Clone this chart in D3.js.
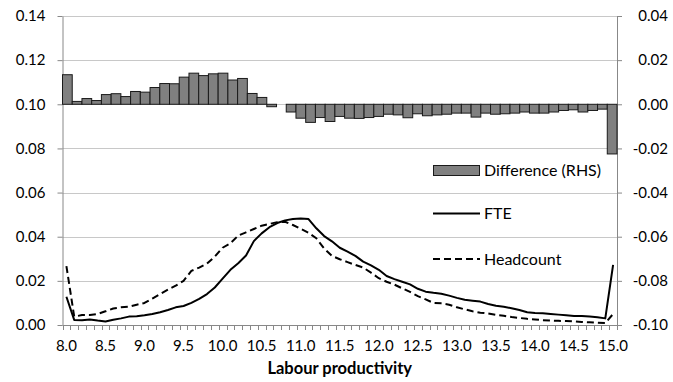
<!DOCTYPE html>
<html>
<head>
<meta charset="utf-8">
<script src="https://cdn.jsdelivr.net/npm/d3@7"></script>
<style>
  body { margin: 0; background: #fff; }
  text { font-family: Lato, "Open Sans", sans-serif; fill: #000; }
</style>
</head>
<body>
<svg id="chart" width="673" height="382"></svg>
<script>
// categories of the line series (primary x axis)
const xValues = [
    "8.0", "8.1", "8.2", "8.3", "8.4", "8.5", "8.6", "8.7", "8.8", "8.9",
    "9.0", "9.1", "9.2", "9.3", "9.4", "9.5", "9.6", "9.7", "9.8", "9.9",
    "10.0", "10.1", "10.2", "10.3", "10.4", "10.5", "10.6", "10.7", "10.8", "10.9",
    "11.0", "11.1", "11.2", "11.3", "11.4", "11.5", "11.6", "11.7", "11.8", "11.9",
    "12.0", "12.1", "12.2", "12.3", "12.4", "12.5", "12.6", "12.7", "12.8", "12.9",
    "13.0", "13.1", "13.2", "13.3", "13.4", "13.5", "13.6", "13.7", "13.8", "13.9",
    "14.0", "14.1", "14.2", "14.3", "14.4", "14.5", "14.6", "14.7", "14.8", "14.9",
    "15.0"
];

const fte = [
    0.0128, 0.0023, 0.0022, 0.0025, 0.0020, 0.0016, 0.0024, 0.0030, 0.0038, 0.0040,
    0.0044, 0.0050, 0.0058, 0.0068, 0.0080, 0.0086, 0.0100, 0.0118, 0.0140, 0.0170,
    0.0210, 0.0250, 0.0280, 0.0315, 0.0380, 0.0415, 0.0443, 0.0462, 0.0474, 0.0480,
    0.0483, 0.0480, 0.0438, 0.0403, 0.0379, 0.0350, 0.0332, 0.0313, 0.0287, 0.0270,
    0.0250, 0.0222, 0.0208, 0.0196, 0.0184, 0.0164, 0.0151, 0.0146, 0.0142, 0.0133,
    0.0123, 0.0114, 0.0110, 0.0106, 0.0095, 0.0087, 0.0083, 0.0076, 0.0068, 0.0058,
    0.0054, 0.0053, 0.0050, 0.0047, 0.0044, 0.0041, 0.0041, 0.0038, 0.0035, 0.0030,
    0.0272
];

const headcount = [
    0.0267, 0.0038, 0.0045, 0.0045, 0.0050, 0.0062, 0.0075, 0.0080, 0.0083, 0.0092,
    0.0100, 0.0120, 0.0140, 0.0160, 0.0178, 0.0200, 0.0245, 0.0260, 0.0278, 0.0310,
    0.0350, 0.0370, 0.0405, 0.0420, 0.0435, 0.0450, 0.0458, 0.0466, 0.0468, 0.0453,
    0.0436, 0.0418, 0.0393, 0.0347, 0.0313, 0.0298, 0.0285, 0.0272, 0.0260, 0.0237,
    0.0212, 0.0196, 0.0183, 0.0166, 0.0150, 0.0131, 0.0116, 0.0100, 0.0098, 0.0092,
    0.0080, 0.0071, 0.0062, 0.0056, 0.0052, 0.0046, 0.0042, 0.0036, 0.0032, 0.0028,
    0.0025, 0.0022, 0.0020, 0.0019, 0.0018, 0.0016, 0.0014, 0.0012, 0.0010, 0.0009,
    0.0050
];

// bars sit on a hidden secondary x axis with their own spacing
const difference = [
    0.0134, 0.0013, 0.0026, 0.0017, 0.0044, 0.0048, 0.0035, 0.0058, 0.0055, 0.0076,
    0.0094, 0.0093, 0.0123, 0.0141, 0.0130, 0.0138, 0.0141, 0.0110, 0.0117, 0.0049,
    0.0031, -0.0011, 0.0000, -0.0035, -0.0063, -0.0082, -0.0060, -0.0078, -0.0055, -0.0063,
    -0.0064, -0.0060, -0.0055, -0.0045, -0.0048, -0.0061, -0.0043, -0.0052, -0.0048, -0.0045,
    -0.0040, -0.0040, -0.0058, -0.0040, -0.0045, -0.0043, -0.0040, -0.0035, -0.0040, -0.0040,
    -0.0035, -0.0028, -0.0025, -0.0035, -0.0028, -0.0022, -0.0225
];

const xTickLabels = ["8.0", "8.5", "9.0", "9.5", "10.0", "10.5", "11.0", "11.5",
    "12.0", "12.5", "13.0", "13.5", "14.0", "14.5", "15.0"];
const leftTicks = [0, 0.02, 0.04, 0.06, 0.08, 0.10, 0.12, 0.14];
const rightTicks = [-0.10, -0.08, -0.06, -0.04, -0.02, 0, 0.02, 0.04];

const plotLeft = 62.5, plotRight = 617, plotTop = 16, plotBottom = 325;
const gridColor = "#c8c8c8", axisColor = "#888";

let svg = d3.select("#chart");

let x = d3.scaleBand().domain(xValues).range([plotLeft, plotRight]).padding(0);
let xBar = d3.scaleBand().domain(d3.range(difference.length)).range([plotLeft, plotRight]).padding(0);
let yLeft = d3.scaleLinear().domain([0, 0.14]).range([plotBottom, plotTop]);
let yRight = d3.scaleLinear().domain([-0.10, 0.04]).range([plotBottom, plotTop]);

let fmt = v => d3.format(".2f")(v).replace("\u2212", "-");

// gridlines
svg.append("g")
    .selectAll("line")
    .data(leftTicks.filter(d => d > 0))
    .enter().append("line")
    .attr("x1", plotLeft).attr("x2", plotRight)
    .attr("y1", d => Math.round(yLeft(d)) + 0.5)
    .attr("y2", d => Math.round(yLeft(d)) + 0.5)
    .attr("stroke", gridColor);

// left axis
let leftAxis = svg.append("g")
    .attr("transform", "translate(" + plotLeft + ",0)")
    .call(d3.axisLeft(yLeft).tickValues(leftTicks).tickFormat(fmt).tickSize(5).tickSizeOuter(0).tickPadding(12));

// right axis
let rightAxis = svg.append("g")
    .attr("transform", "translate(" + plotRight + ",0)")
    .call(d3.axisRight(yRight).tickValues(rightTicks).tickFormat(fmt).tickSize(5).tickSizeOuter(0));
rightAxis.selectAll("text").attr("x", 51).attr("text-anchor", "end");

[leftAxis, rightAxis].forEach(a => {
    a.select(".domain").attr("stroke", axisColor);
    a.selectAll(".tick line").attr("stroke", axisColor);
    a.selectAll("text").style("font-size", "15px").style("font-family", "Lato, 'Open Sans', sans-serif");
});

// bars
svg.append("g")
    .selectAll("rect")
    .data(difference)
    .enter().append("rect")
    .attr("x", (d, i) => xBar(i))
    .attr("width", xBar.bandwidth())
    .attr("y", d => d >= 0 ? yRight(d) : yRight(0))
    .attr("height", d => Math.abs(yRight(d) - yRight(0)))
    .attr("fill", "#808080")
    .attr("stroke", "#1a1a1a")
    .attr("stroke-width", 1);

// x axis line and category ticks
let xAxis = svg.append("g");
xAxis.append("line")
    .attr("x1", plotLeft).attr("x2", plotRight)
    .attr("y1", plotBottom + 0.5).attr("y2", plotBottom + 0.5)
    .attr("stroke", axisColor);
xAxis.selectAll("line.tick")
    .data(xValues.concat(["end"]))
    .enter().append("line")
    .attr("class", "tick")
    .attr("x1", (d, i) => Math.round(plotLeft + i * x.bandwidth()) + 0.5)
    .attr("x2", (d, i) => Math.round(plotLeft + i * x.bandwidth()) + 0.5)
    .attr("y1", plotBottom)
    .attr("y2", plotBottom + 5)
    .attr("stroke", axisColor);
xAxis.selectAll("text")
    .data(xTickLabels)
    .enter().append("text")
    .attr("x", d => x(d) + x.bandwidth() / 2)
    .attr("y", 351)
    .attr("text-anchor", "middle")
    .style("font-size", "15px")
    .text(d => d);

svg.append("text")
    .attr("x", (plotLeft + plotRight) / 2)
    .attr("y", 374)
    .attr("text-anchor", "middle")
    .style("font-size", "16.5px")
    .style("font-weight", "bold")
    .text("Labour productivity");

// lines
let cx = d => x(d) + x.bandwidth() / 2;
let lineFor = series => d3.line()
    .x((d, i) => cx(xValues[i]))
    .y(d => yLeft(d))(series);

svg.append("path")
    .attr("d", lineFor(fte))
    .attr("fill", "none")
    .attr("stroke", "#000")
    .attr("stroke-width", 2)
    .attr("stroke-linejoin", "round");

svg.append("path")
    .attr("d", lineFor(headcount))
    .attr("fill", "none")
    .attr("stroke", "#000")
    .attr("stroke-width", 2)
    .attr("stroke-dasharray", "7,4")
    .attr("stroke-linejoin", "round");

// legend
let legend = svg.append("g");
legend.append("rect")
    .attr("x", 433.5).attr("y", 165.5)
    .attr("width", 46).attr("height", 10)
    .attr("fill", "#808080").attr("stroke", "#1a1a1a");
legend.append("line")
    .attr("x1", 433).attr("x2", 480)
    .attr("y1", 213.5).attr("y2", 213.5)
    .attr("stroke", "#000").attr("stroke-width", 2);
legend.append("line")
    .attr("x1", 433).attr("x2", 480)
    .attr("y1", 259).attr("y2", 259)
    .attr("stroke", "#000").attr("stroke-width", 2)
    .attr("stroke-dasharray", "7,4");
legend.selectAll("text")
    .data([["Difference (RHS)", 170.5], ["FTE", 213.5], ["Headcount", 259]])
    .enter().append("text")
    .attr("x", 484)
    .attr("y", d => d[1])
    .attr("dy", "0.35em")
    .style("font-size", "16px")
    .text(d => d[0]);
</script>
</body>
</html>
